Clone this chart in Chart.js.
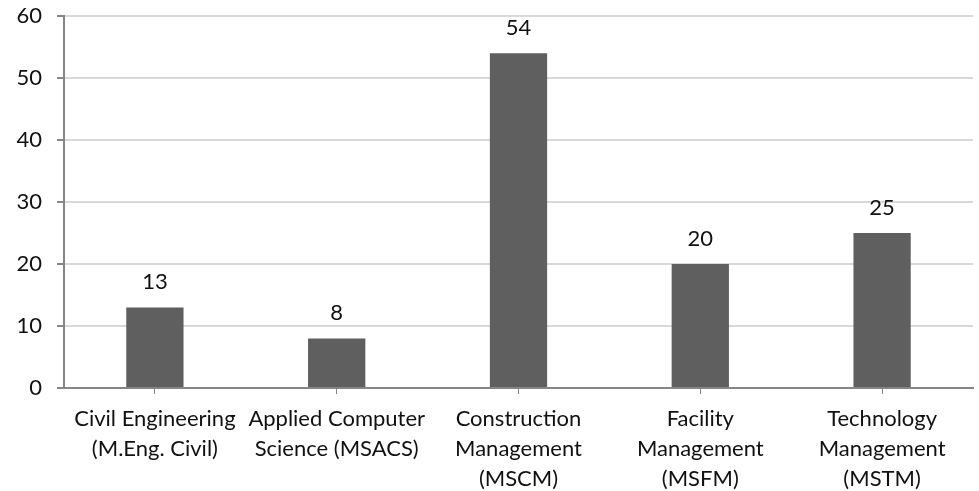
<!DOCTYPE html>
<html>
<head>
<meta charset="utf-8">
<script src="https://cdn.jsdelivr.net/npm/chart.js@4"></script>
<style>
  body { margin: 0; background: #fff; }
  canvas { display: block; }
</style>
</head>
<body>
<canvas id="bar-chart" width="979" height="491"></canvas>
<script>
// Chart data
const programs = [
  ['Civil Engineering', '(M.Eng. Civil)'],
  ['Applied Computer', 'Science (MSACS)'],
  ['Construction', 'Management', '(MSCM)'],
  ['Facility', 'Management', '(MSFM)'],
  ['Technology', 'Management', '(MSTM)']
];
const students = [13, 8, 54, 20, 25];
const yTicks = [0, 10, 20, 30, 40, 50, 60];

const FONT = 'Lato';

// Draw the value above each bar
const valueLabels = {
  id: 'valueLabels',
  afterDatasetsDraw(chart) {
    const ctx = chart.ctx;
    const meta = chart.getDatasetMeta(0);
    ctx.save();
    ctx.font = '22px ' + FONT;
    ctx.fillStyle = '#111';
    ctx.textAlign = 'center';
    ctx.textBaseline = 'middle';
    meta.data.forEach((bar, i) => {
      ctx.fillText(String(students[i]), bar.x, bar.y - 25);
    });
    ctx.restore();
  }
};

const chart = new Chart(document.querySelector('#bar-chart'), {
  type: 'bar',
  data: {
    labels: programs,
    datasets: [{
      data: students,
      backgroundColor: '#5f5f5f',
      borderWidth: 0,
      categoryPercentage: 1,
      barPercentage: 0.315
    }]
  },
  options: {
    responsive: false,
    animation: false,
    layout: { padding: { top: 16, right: 6, left: 0, bottom: 0 } },
    plugins: {
      legend: { display: false },
      tooltip: { enabled: false }
    },
    scales: {
      x: {
        grid: {
          offset: false,
          drawOnChartArea: false,
          drawTicks: true,
          tickLength: 6,
          tickColor: '#868686'
        },
        border: { color: '#868686', width: 2 },
        ticks: {
          color: '#111',
          font: { family: FONT, size: 22, lineHeight: 1.36 },
          padding: 10,
          maxRotation: 0,
          autoSkip: false
        },
        afterFit(scale) { scale.height = 103; }
      },
      y: {
        min: 0,
        max: 60,
        afterBuildTicks(scale) { scale.ticks = yTicks.map(v => ({ value: v })); },
        grid: {
          color: '#d9d9d9',
          lineWidth: 2,
          tickLength: 7,
          tickColor: '#868686'
        },
        border: { color: '#868686', width: 2 },
        ticks: {
          color: '#111',
          font: { family: FONT, size: 22 },
          padding: 15
        },
        afterFit(scale) {
          scale.width = 64;
          scale.paddingTop = 0;
          scale.paddingBottom = 0;
        }
      }
    }
  },
  plugins: [valueLabels]
});
</script>
</body>
</html>
